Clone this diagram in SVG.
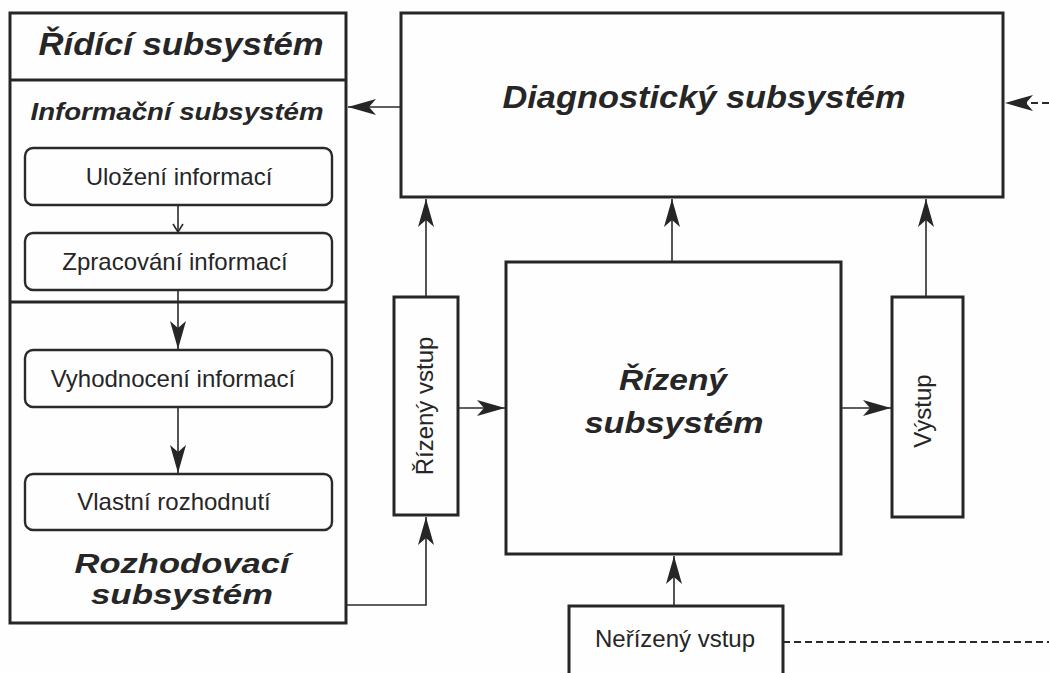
<svg xmlns="http://www.w3.org/2000/svg" width="1049" height="673" viewBox="0 0 1049 673">
  <style>
    .box { fill: none; stroke: #262626; stroke-width: 3; }
    .sub { fill: none; stroke: #2a2a2a; stroke-width: 2.4; }
    .wire { fill: none; stroke: #2a2a2a; stroke-width: 1.6; }
    .dash { fill: none; stroke: #2a2a2a; stroke-width: 2; stroke-dasharray: 7 4; }
    .lbl { font-family: "Liberation Sans", Arial, sans-serif; font-size: 24px; fill: #262626; text-anchor: middle; }
    .ttl { font-family: "Liberation Sans", Arial, sans-serif; font-weight: bold; font-style: italic; fill: #262626; text-anchor: middle; }
  </style>
  <defs>
    <marker id="arrow" markerUnits="userSpaceOnUse" viewBox="-30 -10 32 20" refX="0" refY="0" markerWidth="32" markerHeight="20" orient="auto" overflow="visible">
      <path d="M0,0 L-28,-8 L-21,0 L-28,8 Z" fill="#262626"/>
    </marker>
    <marker id="tick" markerUnits="userSpaceOnUse" viewBox="-10 -7 12 14" refX="0" refY="0" markerWidth="12" markerHeight="14" orient="auto" overflow="visible">
      <path d="M-8,-5 L0,0 L-8,5" fill="none" stroke="#2a2a2a" stroke-width="1.6"/>
    </marker>
  </defs>

  <rect width="1049" height="673" fill="#fefefe"/>

  <!-- control subsystem with its information and decision parts -->
  <g id="ridici-subsystem">
    <rect class="box" x="10" y="13" width="336" height="610"/>
    <line class="box" x1="10" y1="80" x2="346" y2="80"/>
    <line class="box" x1="10" y1="302" x2="346" y2="302"/>
    <text class="ttl" x="181" y="55" font-size="32" textLength="285" lengthAdjust="spacingAndGlyphs">Řídící subsystém</text>
  </g>
  <g id="informacni-subsystem">
    <text class="ttl" x="177" y="120" font-size="23" textLength="293" lengthAdjust="spacingAndGlyphs">Informační subsystém</text>
  </g>
  <g id="ulozeni">
    <rect class="sub" x="25" y="148" width="307" height="57" rx="8"/>
    <text class="lbl" x="179" y="185">Uložení informací</text>
  </g>
  <g id="zpracovani">
    <rect class="sub" x="25" y="233" width="307" height="57" rx="8"/>
    <text class="lbl" x="175" y="270">Zpracování informací</text>
  </g>
  <g id="vyhodnoceni">
    <rect class="sub" x="25" y="350" width="307" height="57" rx="8"/>
    <text class="lbl" x="173" y="387">Vyhodnocení informací</text>
  </g>
  <g id="rozhodnuti">
    <rect class="sub" x="25" y="474" width="307" height="56" rx="8"/>
    <text class="lbl" x="174" y="510">Vlastní rozhodnutí</text>
  </g>
  <g id="rozhodovaci-subsystem">
    <text class="ttl" x="182" y="573" font-size="27" textLength="215" lengthAdjust="spacingAndGlyphs">Rozhodovací</text>
    <text class="ttl" x="182" y="604" font-size="27" textLength="182" lengthAdjust="spacingAndGlyphs">subsystém</text>
  </g>

  <!-- diagnostic subsystem -->
  <g id="diagnosticky-subsystem">
    <rect class="box" x="401" y="13" width="602" height="184"/>
    <text class="ttl" x="704" y="108" font-size="31" textLength="403" lengthAdjust="spacingAndGlyphs">Diagnostický subsystém</text>
  </g>

  <!-- controlled system and its inputs / output -->
  <g id="rizeny-vstup">
    <rect class="box" x="394" y="297" width="64" height="218"/>
    <text class="lbl" transform="translate(433,406) rotate(-90)">Řízený vstup</text>
  </g>
  <g id="rizeny-subsystem">
    <rect class="box" x="506" y="262" width="335" height="292"/>
    <text class="ttl" x="673" y="390" font-size="30" textLength="108" lengthAdjust="spacingAndGlyphs">Řízený</text>
    <text class="ttl" x="674" y="433" font-size="30" textLength="179" lengthAdjust="spacingAndGlyphs">subsystém</text>
  </g>
  <g id="vystup">
    <rect class="box" x="892" y="297" width="71" height="220"/>
    <text class="lbl" transform="translate(931,411) rotate(-90)">Výstup</text>
  </g>
  <g id="nerizeny-vstup">
    <rect class="box" x="569" y="606" width="214" height="80"/>
    <text class="lbl" x="675" y="647">Neřízený vstup</text>
  </g>

  <!-- connectors -->
  <g id="connectors">
    <line class="wire" x1="178" y1="205" x2="178" y2="232" marker-end="url(#tick)"/>
    <line class="wire" x1="178" y1="290" x2="178" y2="349" marker-end="url(#arrow)"/>
    <line class="wire" x1="178" y1="407" x2="178" y2="473" marker-end="url(#arrow)"/>
    <line class="wire" x1="401" y1="107" x2="348" y2="107" marker-end="url(#arrow)"/>
    <line class="dash" x1="1049" y1="103" x2="1005" y2="103" marker-end="url(#arrow)"/>
    <line class="wire" x1="426" y1="297" x2="426" y2="199" marker-end="url(#arrow)"/>
    <line class="wire" x1="672" y1="262" x2="672" y2="199" marker-end="url(#arrow)"/>
    <line class="wire" x1="926" y1="297" x2="926" y2="199" marker-end="url(#arrow)"/>
    <line class="wire" x1="458" y1="408" x2="505" y2="408" marker-end="url(#arrow)"/>
    <line class="wire" x1="841" y1="408" x2="891" y2="408" marker-end="url(#arrow)"/>
    <line class="wire" x1="674" y1="606" x2="674" y2="556" marker-end="url(#arrow)"/>
    <path class="wire" d="M346,605 H426 V517" marker-end="url(#arrow)"/>
    <line class="dash" x1="783" y1="642" x2="1049" y2="642"/>
  </g>
</svg>
